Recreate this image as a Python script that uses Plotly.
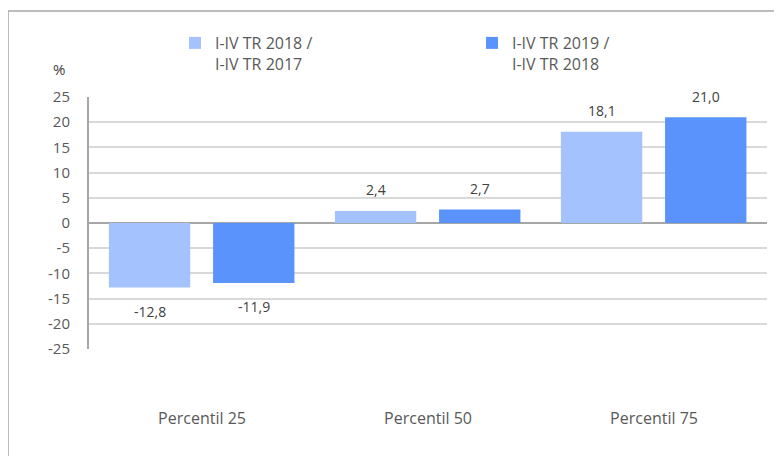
import plotly.graph_objects as go

categories = ["Percentil 25", "Percentil 50", "Percentil 75"]
series_names = ["I-IV TR 2018 /<br>I-IV TR 2017", "I-IV TR 2019 /<br>I-IV TR 2018"]
values_2018 = [-12.8, 2.4, 18.1]
values_2019 = [-11.9, 2.7, 21.0]
labels_2018 = ["-12,8", "2,4", "18,1"]
labels_2019 = ["-11,9", "2,7", "21,0"]
y_ticks = [25, 20, 15, 10, 5, 0, -5, -10, -15, -20, -25]

colors = ["#A4C2FE", "#5B93FD"]
FONT = "Open Sans"
TXT = "#595959"

OFF = 8  # page body margin in the browser
W, H = 782, 456
ML, MR, MT, MB = 89 - OFF, 15 + OFF, 97 - OFF, 107 + OFF
PW = W - ML - MR
PH = H - MT - MB


def px_x(px):
    return (px - OFF - ML) / PW


def px_y(py):
    return (H - MB - (py - OFF)) / PH


bar_w = 0.36
offsets = [-0.412, 0.049]

fig = go.Figure()
all_vals = [values_2018, values_2019]
all_labels = [labels_2018, labels_2019]
for k in range(2):
    fig.add_trace(go.Bar(
        x=categories, y=all_vals[k], name=series_names[k],
        marker=dict(color=colors[k], line=dict(width=0)),
        width=bar_w, offset=offsets[k],
    ))

annotations = []
for k in range(2):
    for i, (v, t) in enumerate(zip(all_vals[k], all_labels[k])):
        annotations.append(dict(
            x=i + offsets[k] + bar_w / 2, y=v, xref="x", yref="y",
            text=t, showarrow=False,
            yshift=21 if v >= 0 else -24,
            font=dict(family=FONT, size=14, color="#404040"),
        ))
annotations.append(dict(
    x=px_x(59), y=px_y(69), xref="paper", yref="paper",
    xanchor="center", yanchor="middle",
    text="%", showarrow=False, font=dict(family=FONT, size=15, color="#404040"),
))

fig.update_layout(
    width=W, height=H,
    margin=dict(l=ML, r=MR, t=MT, b=MB, autoexpand=False),
    paper_bgcolor="white", plot_bgcolor="white",
    barmode="overlay",
    showlegend=True,
    legend=dict(
        orientation="h", x=px_x(175), xanchor="left",
        y=px_y(26), yanchor="top",
        entrywidth=252, entrywidthmode="pixels",
        font=dict(family=FONT, size=16, color=TXT),
        valign="top", itemwidth=30, traceorder="normal",
        bgcolor="rgba(0,0,0,0)",
    ),
    xaxis=dict(
        type="category", range=[-0.5, 2.5], automargin=False,
        showgrid=False, showline=False, ticks="",
        ticklabelstandoff=58,
        tickfont=dict(family=FONT, size=16, color=TXT),
        zeroline=False,
    ),
    yaxis=dict(
        range=[-25, 25], tickvals=y_ticks, ticktext=[str(v) for v in y_ticks],
        automargin=False,
        showgrid=True, gridcolor="#D9D9D9", gridwidth=1.5,
        zeroline=True, zerolinecolor="#A6A6A6", zerolinewidth=1.5,
        showline=True, linecolor="#A6A6A6", linewidth=2,
        ticks="", ticklabelstandoff=14,
        tickfont=dict(family=FONT, size=15, color=TXT),
    ),
    annotations=annotations,
    shapes=[dict(
        type="rect", xref="paper", yref="paper",
        x0=px_x(8), x1=1.3, y0=-0.6, y1=px_y(11),
        line=dict(color="#A6A6A6", width=1.5), fillcolor="rgba(0,0,0,0)",
        layer="below",
    )],
    font=dict(family=FONT),
)

fig.write_html("out.html")
